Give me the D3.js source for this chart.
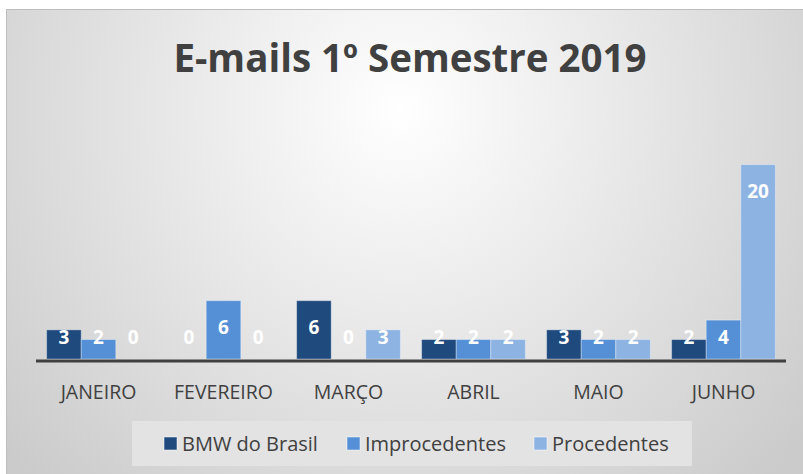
<!DOCTYPE html>
<meta charset="utf-8">
<style>
  body { margin: 0; background: #fff; }
  text { font-family: 'Open Sans', 'Noto Sans', sans-serif; }
  text.title { font-size: 38.5px; font-weight: bold; fill: #404040; text-anchor: middle; }
  text.cat { font-size: 19.5px; fill: #404040; text-anchor: middle; }
  text.val { font-size: 19px; font-weight: bold; fill: #fff; text-anchor: middle; }
  text.leg { font-size: 20px; fill: #404040; }
</style>
<script src="https://d3js.org/d3.v7.min.js"></script>
<div id="chart"></div>
<script>

// data
var months = ["JANEIRO", "FEVEREIRO", "MARÇO", "ABRIL", "MAIO", "JUNHO"];
var seriesNames = ["BMW do Brasil", "Improcedentes", "Procedentes"];
var bmw = [3, 0, 6, 2, 3, 2];
var improcedentes = [2, 6, 0, 2, 2, 4];
var procedentes = [0, 0, 3, 2, 2, 20];
var colors = ["#1f4a7e", "#5590d6", "#8db3e2"];

var W = 803, H = 474;
var margin = {top: 116, right: 17, bottom: 113, left: 36},
    width = W - margin.left - margin.right,
    height = H - margin.top - margin.bottom;

var svg = d3.select("#chart").append("svg")
    .attr("width", W)
    .attr("height", H);

// background
var defs = svg.append("defs");
var grad = defs.append("radialGradient")
    .attr("id", "bg")
    .attr("gradientUnits", "userSpaceOnUse")
    .attr("cx", 400).attr("cy", 110).attr("r", 520);
grad.append("stop").attr("offset", "0%").attr("stop-color", "#ffffff");
grad.append("stop").attr("offset", "100%").attr("stop-color", "#cbcbcb");

svg.append("rect")
    .attr("x", 6.5).attr("y", 9.5)
    .attr("width", W).attr("height", H)
    .attr("fill", "url(#bg)")
    .attr("stroke", "#bdbdbd")
    .attr("stroke-width", 1);

svg.append("text")
    .attr("class", "title")
    .attr("x", 410)
    .attr("y", 72)
    .text("E-mails 1º Semestre 2019");

var g = svg.append("g")
    .attr("transform", "translate(" + margin.left + "," + margin.top + ")");

var x = d3.scaleBand()
    .domain(months)
    .range([0, width])
    .paddingInner(0.17)
    .paddingOuter(0.085);

var x1 = d3.scaleBand()
    .domain(seriesNames)
    .range([0, x.bandwidth()]);

var y = d3.scaleLinear()
    .domain([0, 25])
    .range([height - 2, 0]);

var table = months.map(function(m, i) {
  return {month: m, values: [bmw[i], improcedentes[i], procedentes[i]]};
});

var groups = g.selectAll("g.grp")
    .data(table)
    .enter().append("g")
    .attr("class", "grp")
    .attr("transform", function(d) { return "translate(" + x(d.month) + ",0)"; });

groups.selectAll("rect")
    .data(function(d) { return d.values.map(function(v, k) { return {k: k, v: v}; }); })
    .enter().append("rect")
    .filter(function(d) { return d.v > 0; })
    .attr("x", function(d) { return x1(seriesNames[d.k]); })
    .attr("y", function(d) { return y(d.v); })
    .attr("width", x1.bandwidth())
    .attr("height", function(d) { return y(0) - y(d.v); })
    .attr("fill", function(d) { return colors[d.k]; })
    .attr("stroke", "rgba(255,255,255,0.35)")
    .attr("stroke-width", 1);

groups.selectAll("text")
    .data(function(d) { return d.values.map(function(v, k) { return {k: k, v: v}; }); })
    .enter().append("text")
    .attr("class", "val")
    .attr("x", function(d) { return x1(seriesNames[d.k]) + x1.bandwidth() / 2; })
    .attr("y", function(d) { return Math.min(y(d.v) + 26, y(0) - 22) + 7; })
    .text(function(d) { return d.v; });

// axis line
g.append("line")
    .attr("x1", 0).attr("x2", width)
    .attr("y1", height).attr("y2", height)
    .attr("stroke", "#404040")
    .attr("stroke-width", 3);

g.selectAll("text.cat")
    .data(months)
    .enter().append("text")
    .attr("class", "cat")
    .attr("x", function(d) { return x(d) + x.bandwidth() / 2; })
    .attr("y", height + 38)
    .text(function(d) { return d; });

// legend
svg.append("rect")
    .attr("x", 132).attr("y", 421)
    .attr("width", 560).attr("height", 45)
    .attr("fill", "#e3e3e3");

var legX = [164, 347, 534];
var leg = svg.selectAll("g.legitem")
    .data(seriesNames)
    .enter().append("g")
    .attr("class", "legitem")
    .attr("transform", function(d, i) { return "translate(" + legX[i] + ",437)"; });

leg.append("rect")
    .attr("width", 13).attr("height", 13)
    .attr("fill", function(d, i) { return colors[i]; })
    .attr("stroke", "rgba(255,255,255,0.5)");

leg.append("text")
    .attr("class", "leg")
    .attr("x", 18)
    .attr("y", 14)
    .text(function(d) { return d; });

</script>
